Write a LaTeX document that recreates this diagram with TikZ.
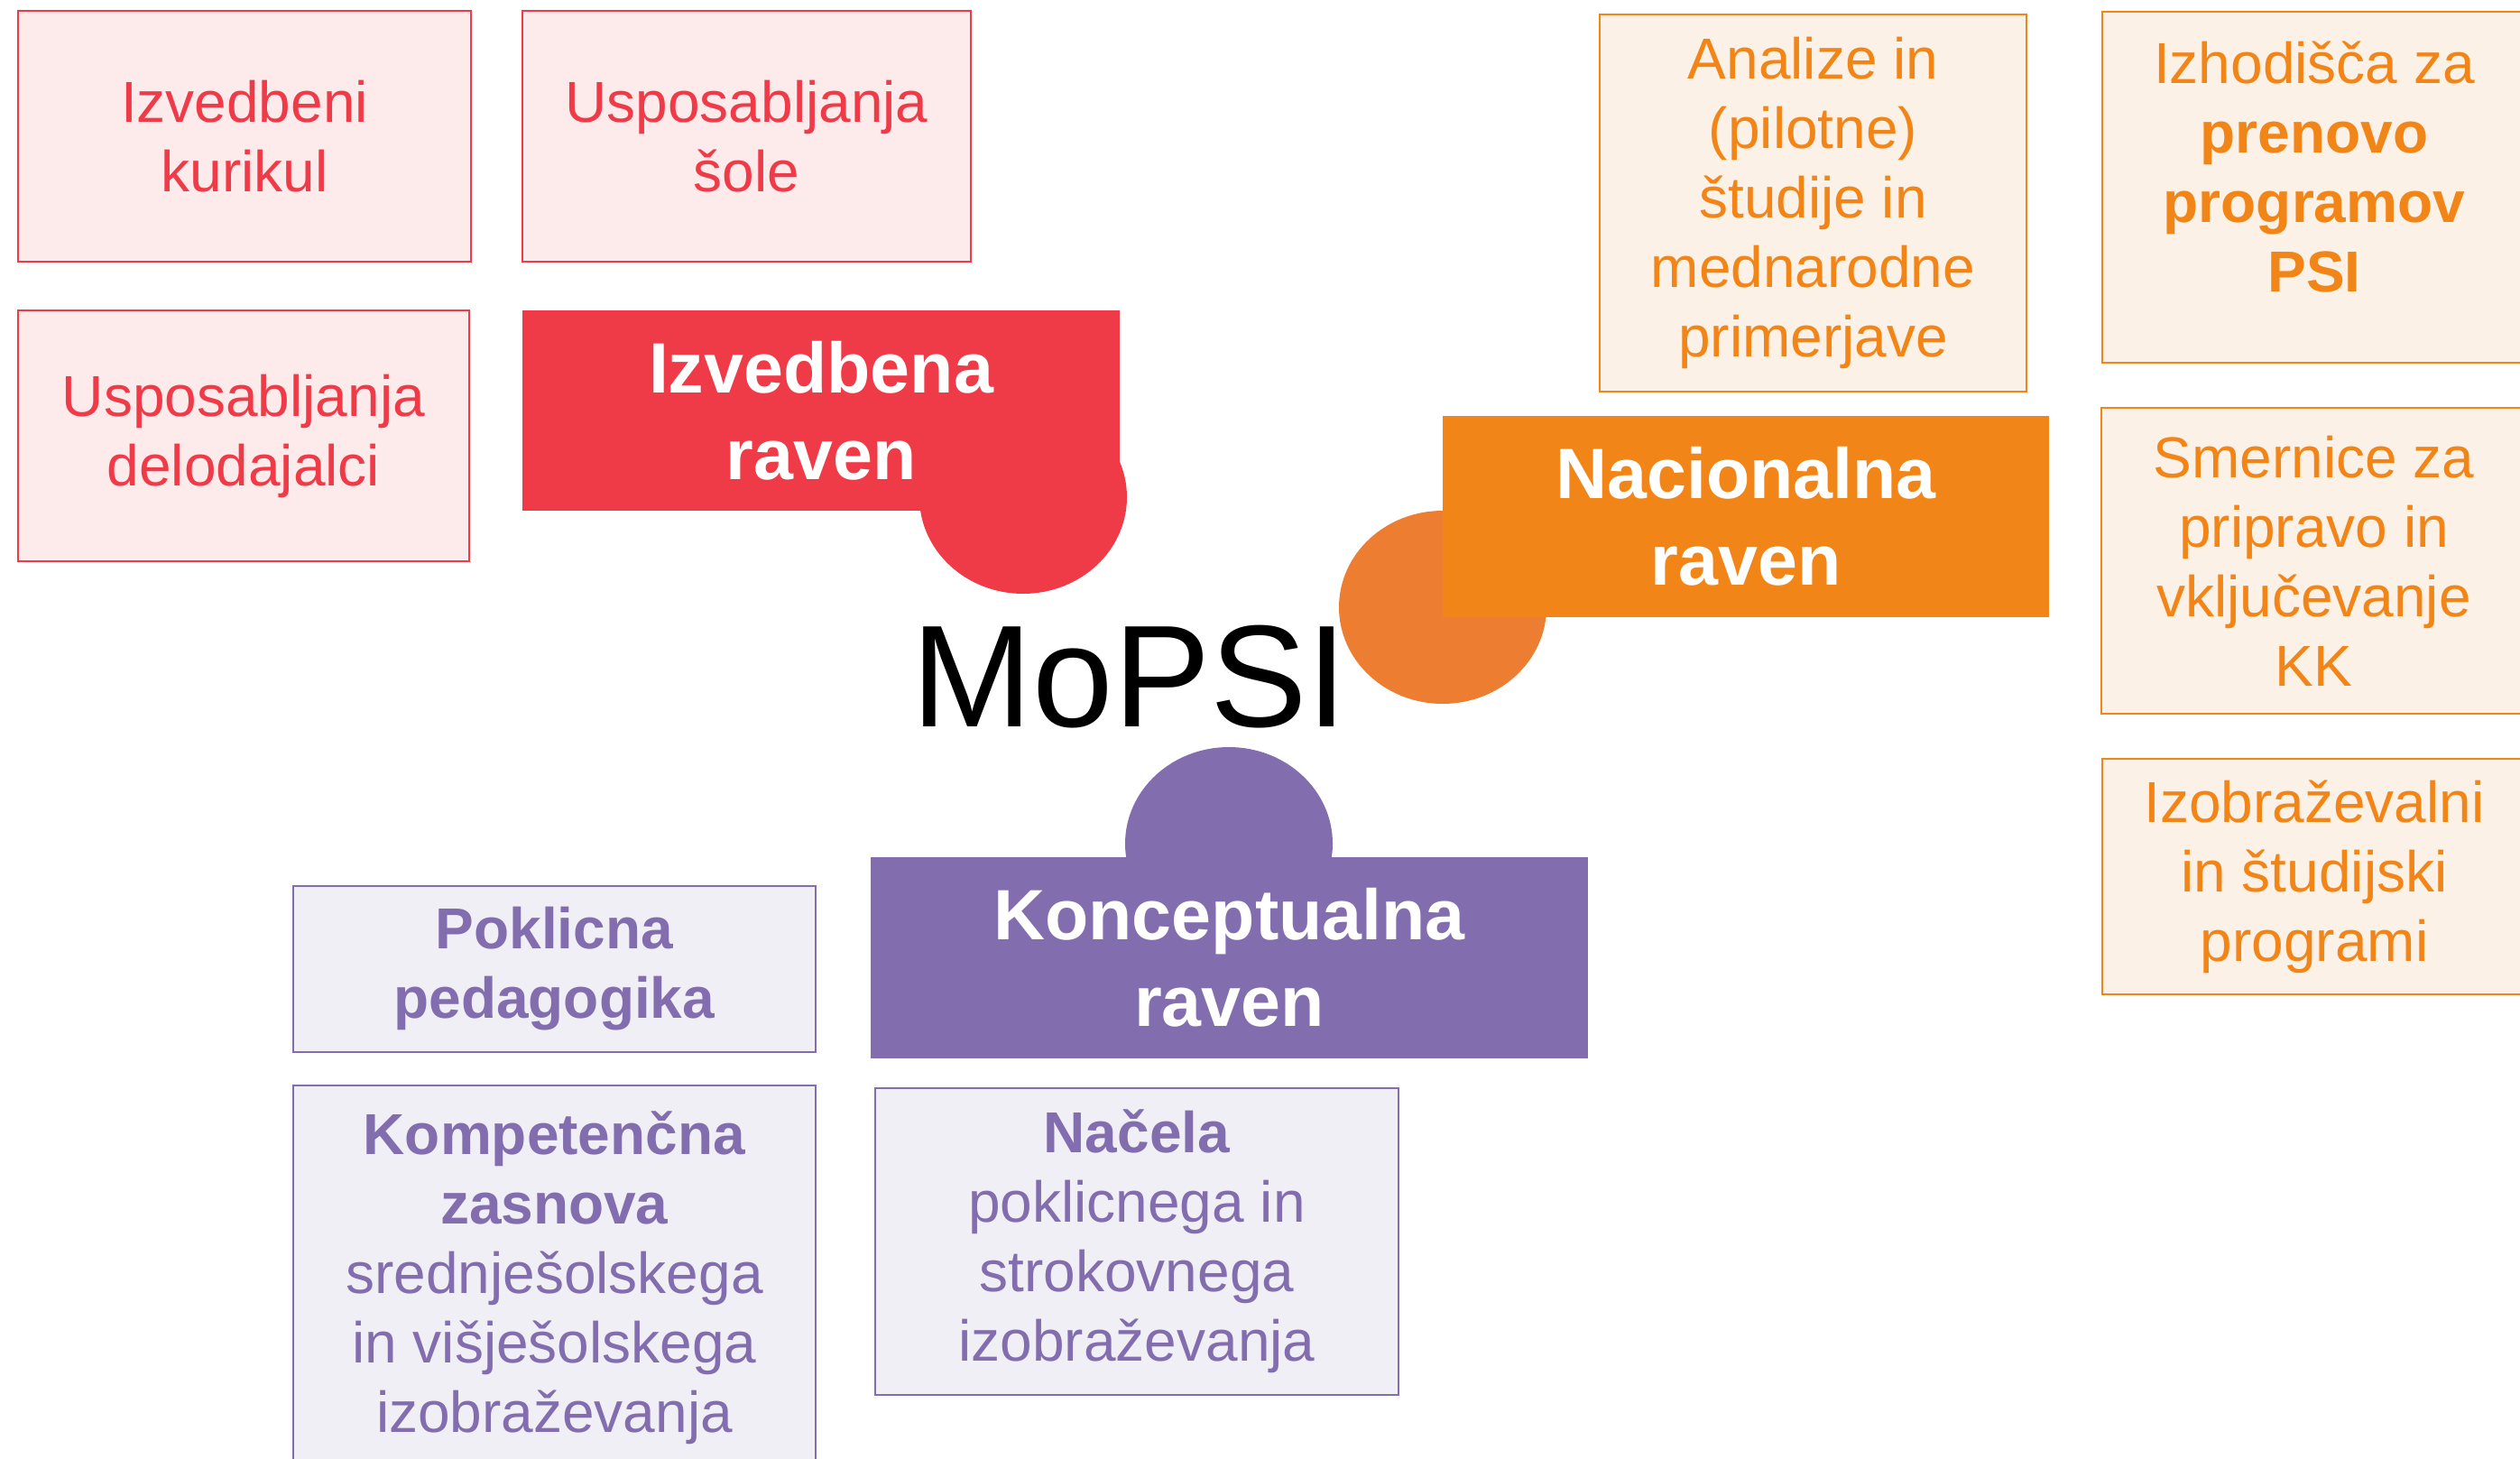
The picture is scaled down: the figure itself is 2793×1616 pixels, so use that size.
\documentclass[tikz,border=0pt]{standalone}
\usepackage{fontspec}
\setmainfont{Liberation Sans}
\usetikzlibrary{shapes.geometric}
\definecolor{izred}{HTML}{EF3B48}
\definecolor{izpink}{HTML}{FDEAEA}
\definecolor{naorange}{HTML}{F28518}
\definecolor{nablob}{HTML}{ED7D31}
\definecolor{nalight}{HTML}{FCF1E7}
\definecolor{kopurple}{HTML}{826EAE}
\definecolor{kolight}{HTML}{F1EFF6}
\begin{document}
\begin{tikzpicture}[x=0.5pt,y=-0.5pt,
  box/.style={draw,line width=1pt,inner sep=0pt,align=center,
    font=\fontsize{32pt}{38.5pt}\selectfont},
  redbox/.style={box,draw=izred,fill=izpink,text=izred},
  orangebox/.style={box,draw=naorange,fill=nalight,text=naorange},
  purplebox/.style={box,draw=kopurple,fill=kolight,text=kopurple},
  head/.style={inner sep=0pt,align=center,text=white,
    font=\fontsize{39.5pt}{48pt}\selectfont\bfseries},
  blob/.style={ellipse,inner sep=0pt,minimum width=115pt,minimum height=107pt}]
\useasboundingbox (0,0) rectangle (2793,1616);
% izvedbena raven
\node[blob,fill=izred] (izblob) at (1134,551) {};
\node[head,fill=izred,minimum width=331pt,minimum height=111pt] (izhead) at (910,455) {Izvedbena\\raven};
\node[redbox,minimum width=251pt,minimum height=139pt] (kurikul) at (271,151) {Izvedbeni\\kurikul};
\node[redbox,minimum width=248.5pt,minimum height=139pt] (sole) at (827.5,151) {Usposabljanja\\šole};
\node[redbox,minimum width=250pt,minimum height=139pt] (delodajalci) at (270,483) {Usposabljanja\\delodajalci};
% nacionalna raven
\node[blob,fill=nablob] (nablob) at (1599,673) {};
\node[head,fill=naorange,minimum width=336pt,minimum height=111.5pt] (nahead) at (1935,572.5) {Nacionalna\\raven};
\node[orangebox,minimum width=236.5pt,minimum height=209pt] (analize) at (2009.5,225)
  {Analize in\\(pilotne)\\študije in\\mednarodne\\primerjave};
\node[orangebox,minimum width=235pt,minimum height=194.5pt] (izhodisca) at (2565,207.5) {};
\node[align=center,inner sep=0pt,text=naorange,font=\fontsize{32pt}{38.5pt}\selectfont]
  (izhodiscatxt) at ([yshift=11pt]izhodisca.center) {Izhodišča za\\\textbf{prenovo}\\\textbf{programov}\\\textbf{PSI}};
\node[orangebox,minimum width=235.5pt,minimum height=169.5pt] (smernice) at (2564.5,621.5)
  {Smernice za\\pripravo in\\vključevanje\\KK};
\node[orangebox,minimum width=235pt,minimum height=130.5pt] (programi) at (2565,971.5)
  {Izobraževalni\\in študijski\\programi};
% konceptualna raven
\node[blob,fill=kopurple] (koblob) at (1362,935) {};
\node[head,fill=kopurple,minimum width=397.5pt,minimum height=111.5pt] (kohead) at (1362.5,1061.5) {Konceptualna\\raven};
\node[purplebox,minimum width=289.5pt,minimum height=92pt] (pedagogika) at (614.5,1074)
  {\textbf{Poklicna}\\\textbf{pedagogika}};
\node[purplebox,minimum width=289.5pt,minimum height=213.5pt] (zasnova) at (614.5,1416.5)
  {\textbf{Kompetenčna}\\\textbf{zasnova}\\srednješolskega\\in višješolskega\\izobraževanja};
\node[purplebox,minimum width=290pt,minimum height=170pt] (nacela) at (1260,1376)
  {\textbf{Načela}\\poklicnega in\\strokovnega\\izobraževanja};
% sredina
\node[anchor=base,inner sep=0pt,font=\fontsize{80.5pt}{96pt}\selectfont] (mopsi) at (1252,805) {MoPSI};
\end{tikzpicture}
\end{document}
